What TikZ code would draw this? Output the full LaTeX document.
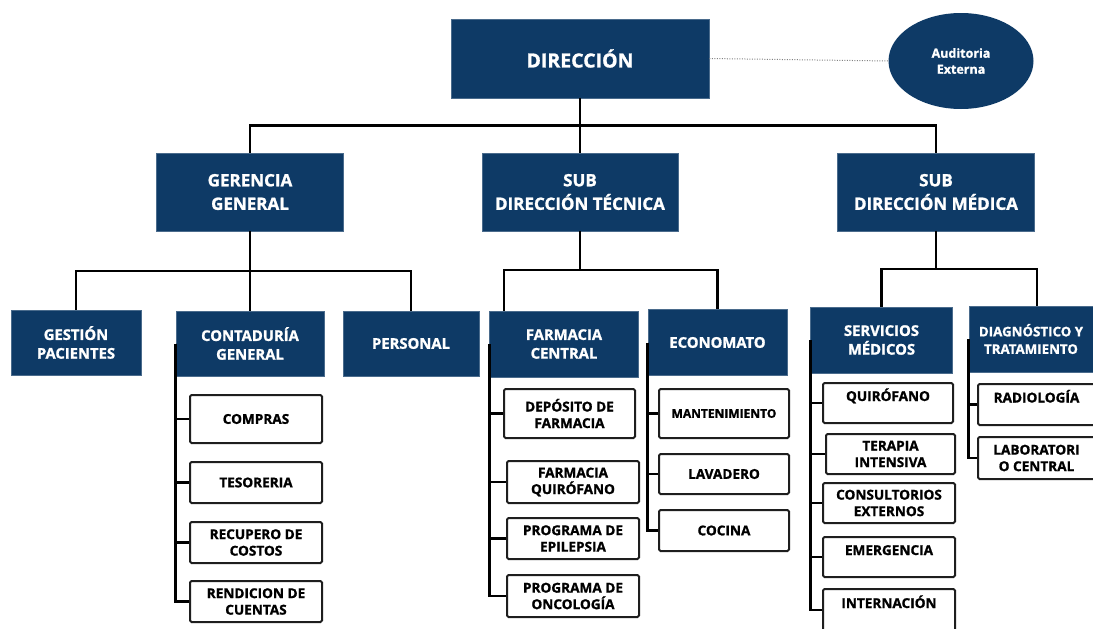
\documentclass[tikz,border=0pt]{standalone}
\usepackage{fontspec}
\setmainfont{Open Sans}[BoldFeatures={FakeBold=1.2}]
\usetikzlibrary{shapes}
\usetikzlibrary{shapes.geometric}
\usetikzlibrary{positioning}
\definecolor{navy}{RGB}{14,58,102}
\definecolor{boxline}{RGB}{30,30,30}

\begin{document}
\begin{tikzpicture}[x=1pt, y=-1pt,
    head/.style={rectangle, fill=navy, draw=navy!75!white, line width=0.6pt, text=white, align=center, inner sep=0pt, font=\bfseries\fontsize{17}{23.5}\selectfont},
    unit/.style={head, font=\bfseries\fontsize{14.8}{18.7}\selectfont},
    item/.style={rectangle, rounded corners=1.5pt, draw=boxline, line width=2pt, fill=white, align=center, inner sep=0pt, font=\bfseries\fontsize{13.6}{16.5}\selectfont},
    upper/.style={text height=9pt, text depth=13pt},
    link/.style={line width=2.6pt, black}
  ]
        \useasboundingbox (0,0) rectangle (1093,629);
        % top
        \node[head, minimum width=258pt, minimum height=79pt, font=\bfseries\fontsize{19.5}{24}\selectfont] (dir) at (580,58.5) {DIRECCIÓN};
        \node[ellipse, fill=navy, text=white, minimum width=145pt, minimum height=96pt, inner sep=0pt, align=center, font=\bfseries\fontsize{12.5}{16}\selectfont] (aud) at (961,61) {Auditoria\\Externa};
        \draw[gray, line width=1pt, dash pattern=on 1pt off 1.5pt] (dir.east) -- (aud.west);
        % second level
        \node[head, minimum width=187pt, minimum height=78pt] (gg) at (250,192) {GERENCIA\\GENERAL};
        \node[head, minimum width=196pt, minimum height=78pt] (sdt) at (580,192) {SUB\\DIRECCIÓN TÉCNICA};
        \node[head, minimum width=197pt, minimum height=78pt] (sdm) at (936,192) {SUB\\DIRECCIÓN MÉDICA};
        \draw[link] (dir.south) -- (sdt.north);
        \draw[link] (dir.south) -- ++(0,27) -| (gg.north);
        \draw[link] (dir.south) -- ++(0,27) -| (sdm.north);
        % third level
        \node[unit, minimum width=130pt, minimum height=65pt] (gp) at (76,342.5) {GESTIÓN\\PACIENTES};
        \node[unit, minimum width=148pt, minimum height=65pt] (cg) at (250,343.5) {CONTADURÍA\\GENERAL};
        \node[unit, minimum width=136pt, minimum height=65pt] (per) at (411,343.5) {PERSONAL};
        \node[unit, minimum width=149pt, minimum height=66pt] (fc) at (564,344) {FARMACIA\\CENTRAL};
        \node[unit, minimum width=139pt, minimum height=66pt] (eco) at (717.5,342.5) {ECONOMATO};
        \node[unit, minimum width=142pt, minimum height=66pt] (sm) at (881.5,340) {SERVICIOS\\MÉDICOS};
        \node[unit, minimum width=124pt, minimum height=66pt, font=\bfseries\fontsize{13.3}{17.5}\selectfont] (dt) at (1031,339) {DIAGNÓSTICO Y\\TRATAMIENTO};
        \draw[link] (gg.south) -- (cg.north);
        \draw[link] (gg.south) -- ++(0,39.5) -| (gp.north);
        \draw[link] (gg.south) -- ++(0,39.5) -| (per.north);
        \draw[link] (sdt.south) -- ++(0,38.5) -| ([xshift=-60pt]fc.north);
        \draw[link] (sdt.south) -- ++(0,38.5) -| (eco.north);
        \draw[link] (sdm.south) -- ++(0,37.5) -| (sm.north);
        \draw[link] (sdm.south) -- ++(0,37.5) -| ([xshift=6pt]dt.north);
        % contaduria
        \node[item, minimum width=132pt, minimum height=48pt] (compras) at (256,419) {COMPRAS};
        \node[item, minimum width=132pt, minimum height=41pt] (tesoreria) at (256,482.5) {TESORERIA};
        \node[item, minimum width=132pt, minimum height=41pt] (recupero) at (256,542.5) {RECUPERO DE\\COSTOS};
        \node[item, minimum width=132pt, minimum height=41pt] (rendicion) at (256,601.5) {RENDICION DE\\CUENTAS};
        \foreach \n in {compras,tesoreria,recupero,rendicion}
           \draw[link] (cg.west) |- (\n.west);
        % farmacia
        \node[item, minimum width=131pt, minimum height=49pt] (deposito) at (569.5,413.5) {DEPÓSITO DE\\FARMACIA};
        \node[item, minimum width=132pt, minimum height=42pt] (fquirofano) at (573,482) {FARMACIA\\QUIRÓFANO};
        \node[item, minimum width=132pt, minimum height=41pt] (epilepsia) at (573,538.5) {PROGRAMA DE\\EPILEPSIA};
        \node[item, minimum width=132pt, minimum height=42pt] (oncologia) at (573,596) {PROGRAMA DE\\ONCOLOGÍA};
        \foreach \n in {deposito,fquirofano,epilepsia,oncologia}
           \draw[link] (fc.west) |- (\n.west);
        % economato
        \node[item, minimum width=130pt, minimum height=49pt, font=\bfseries\fontsize{12}{16}\selectfont] (mantenimiento) at (724,413.5) {MANTENIMIENTO};
        \node[item, minimum width=130pt, minimum height=40pt] (lavadero) at (724,474) {LAVADERO};
        \node[item, minimum width=130pt, minimum height=41pt] (cocina) at (724,530.5) {COCINA};
        \foreach \n in {mantenimiento,lavadero,cocina}
           \draw[link] (eco.west) |- (\n.west);
        % servicios medicos
        \node[item, upper, minimum width=130pt, minimum height=40pt] (quirofano) at (888,403) {QUIRÓFANO};
        \node[item, minimum width=129pt, minimum height=40pt] (terapia) at (890.5,454) {TERAPIA\\INTENSIVA};
        \node[item, minimum width=132pt, minimum height=40pt] (consultorios) at (889,503) {CONSULTORIOS\\EXTERNOS};
        \node[item, upper, minimum width=132pt, minimum height=40pt] (emergencia) at (889,557) {EMERGENCIA};
        \node[item, upper, minimum width=132pt, minimum height=42pt] (internacion) at (889,610) {INTERNACIÓN};
        \foreach \n in {quirofano,terapia,consultorios,emergencia,internacion}
           \draw[link] (sm.west) |- (\n.west);
        % diagnostico
        \node[item, upper, minimum width=117pt, minimum height=41pt] (radiologia) at (1036.5,404.5) {RADIOLOGÍA};
        \node[item, minimum width=117pt, minimum height=42pt] (laboratorio) at (1036.5,458) {LABORATORI\\O CENTRAL};
        \foreach \n in {radiologia,laboratorio}
           \draw[link] (dt.west) |- (\n.west);
\end{tikzpicture}
\end{document}
